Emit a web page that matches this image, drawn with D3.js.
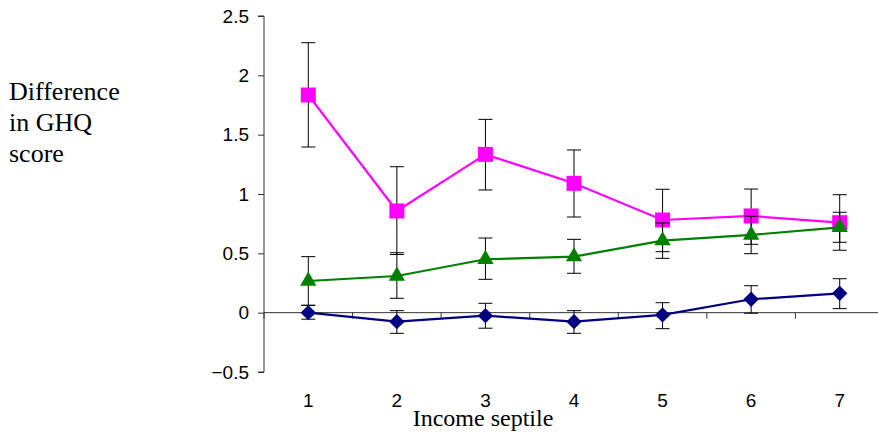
<!DOCTYPE html>
<html>
<head>
<meta charset="utf-8">
<script src="https://cdn.jsdelivr.net/npm/d3@7"></script>
<style>
  body { margin: 0; background: #fff; }
  svg { display: block; }
</style>
</head>
<body>
<div id="chart"></div>
<script>
// values
const septiles = ["1", "2", "3", "4", "5", "6", "7"];
const yTicks = [-0.5, 0, 0.5, 1, 1.5, 2, 2.5];

const magentaVals = [1.834, 0.857, 1.334, 1.09, 0.781, 0.815, 0.758];
const magentaHi   = [2.275, 1.23, 1.629, 1.371, 1.04, 1.042, 0.994];
const magentaLo   = [1.396, 0.49, 1.034, 0.806, 0.514, 0.576, 0.526];

const greenVals = [0.267, 0.309, 0.45, 0.472, 0.607, 0.655, 0.719];
const greenHi   = [0.472, 0.505, 0.629, 0.618, 0.756, 0.813, 0.846];
const greenLo   = [0.062, 0.121, 0.281, 0.332, 0.458, 0.497, 0.593];

const blueVals = [0.0, -0.076, -0.025, -0.076, -0.019, 0.113, 0.163];
const blueHi   = [0.062, 0.017, 0.079, 0.017, 0.084, 0.227, 0.286];
const blueLo   = [-0.055, -0.174, -0.131, -0.174, -0.135, -0.005, 0.034];

const width = 878, height = 435;

const svg = d3.select("#chart").append("svg")
    .attr("width", width)
    .attr("height", height);

const x = d3.scaleBand().domain(septiles).range([264, 884]).padding(0);
const y = d3.scaleLinear().domain([-0.5, 2.5]).range([372, 16]);
const cx = d => x(d) + x.bandwidth() / 2;

// y axis
const yAxis = svg.append("g")
    .attr("transform", "translate(264,0)")
    .call(d3.axisLeft(y).tickValues(yTicks).tickSize(6).tickPadding(9)
        .tickFormat(d => d3.format("")(d)));
yAxis.select(".domain").attr("stroke", "#333").attr("d", `M-6,${y(2.5)}H0V${y(-0.5)}H-6`);
yAxis.selectAll(".tick line").attr("stroke", "#333");
yAxis.selectAll("text")
    .attr("font-family", "Liberation Sans, Arial, sans-serif")
    .attr("font-size", 19)
    .attr("fill", "#000");

// x axis sits on zero, ticks between categories
const xAxisG = svg.append("g").attr("transform", `translate(0,${y(0)})`);
xAxisG.append("line")
    .attr("x1", 264).attr("x2", width)
    .attr("stroke", "#333");
septiles.forEach(s => {
    xAxisG.append("line")
        .attr("x1", x(s)).attr("x2", x(s))
        .attr("y1", 0).attr("y2", 6)
        .attr("stroke", "#333");
});

// category labels at the bottom
svg.append("g").selectAll("text")
    .data(septiles)
    .enter().append("text")
    .attr("x", d => cx(d))
    .attr("y", 407)
    .attr("text-anchor", "middle")
    .attr("font-family", "Liberation Sans, Arial, sans-serif")
    .attr("font-size", 19)
    .text(d => d);

svg.append("text")
    .attr("x", 483)
    .attr("y", 426)
    .attr("text-anchor", "middle")
    .attr("font-family", "Liberation Serif, Times New Roman, serif")
    .attr("font-size", 24)
    .text("Income septile");

const yLab = svg.append("text")
    .attr("font-family", "Liberation Serif, Times New Roman, serif")
    .attr("font-size", 26);
["Difference", "in GHQ", "score"].forEach((t, i) => {
    yLab.append("tspan").attr("x", 9).attr("y", 100 + i * 31).text(t);
});

const series = [
    { name: "magenta", color: "#ff00ff", vals: magentaVals, hi: magentaHi, lo: magentaLo, shape: d3.symbolSquare, size: 225, rot: 0 },
    { name: "green", color: "#008000", vals: greenVals, hi: greenHi, lo: greenLo, shape: d3.symbolTriangle, size: 115, rot: 0 },
    { name: "blue", color: "#000080", vals: blueVals, hi: blueHi, lo: blueLo, shape: d3.symbolSquare, size: 118, rot: 45 }
];

const line = d3.line()
    .x(d => cx(d.cat))
    .y(d => y(d.v));

series.forEach(s => {
    const pts = septiles.map((c, i) => ({ cat: c, v: s.vals[i], hi: s.hi[i], lo: s.lo[i] }));
    const g = svg.append("g").attr("class", s.name);

    // error bars
    const eb = g.selectAll("g.err").data(pts).enter().append("g").attr("class", "err");
    eb.append("line")
        .attr("x1", d => cx(d.cat)).attr("x2", d => cx(d.cat))
        .attr("y1", d => y(d.hi)).attr("y2", d => y(d.lo))
        .attr("stroke", "#000").attr("stroke-width", 1);
    eb.append("line")
        .attr("x1", d => cx(d.cat) - 7).attr("x2", d => cx(d.cat) + 7)
        .attr("y1", d => y(d.hi)).attr("y2", d => y(d.hi))
        .attr("stroke", "#000").attr("stroke-width", 1);
    eb.append("line")
        .attr("x1", d => cx(d.cat) - 7).attr("x2", d => cx(d.cat) + 7)
        .attr("y1", d => y(d.lo)).attr("y2", d => y(d.lo))
        .attr("stroke", "#000").attr("stroke-width", 1);

    g.append("path")
        .datum(pts)
        .attr("d", line)
        .attr("fill", "none")
        .attr("stroke", s.color)
        .attr("stroke-width", 2.2);

    g.selectAll("path.mark").data(pts).enter().append("path")
        .attr("class", "mark")
        .attr("transform", d => `translate(${cx(d.cat)},${y(d.v)}) rotate(${s.rot})`)
        .attr("d", d3.symbol().type(s.shape).size(s.size))
        .attr("fill", s.color);
});
</script>
</body>
</html>
